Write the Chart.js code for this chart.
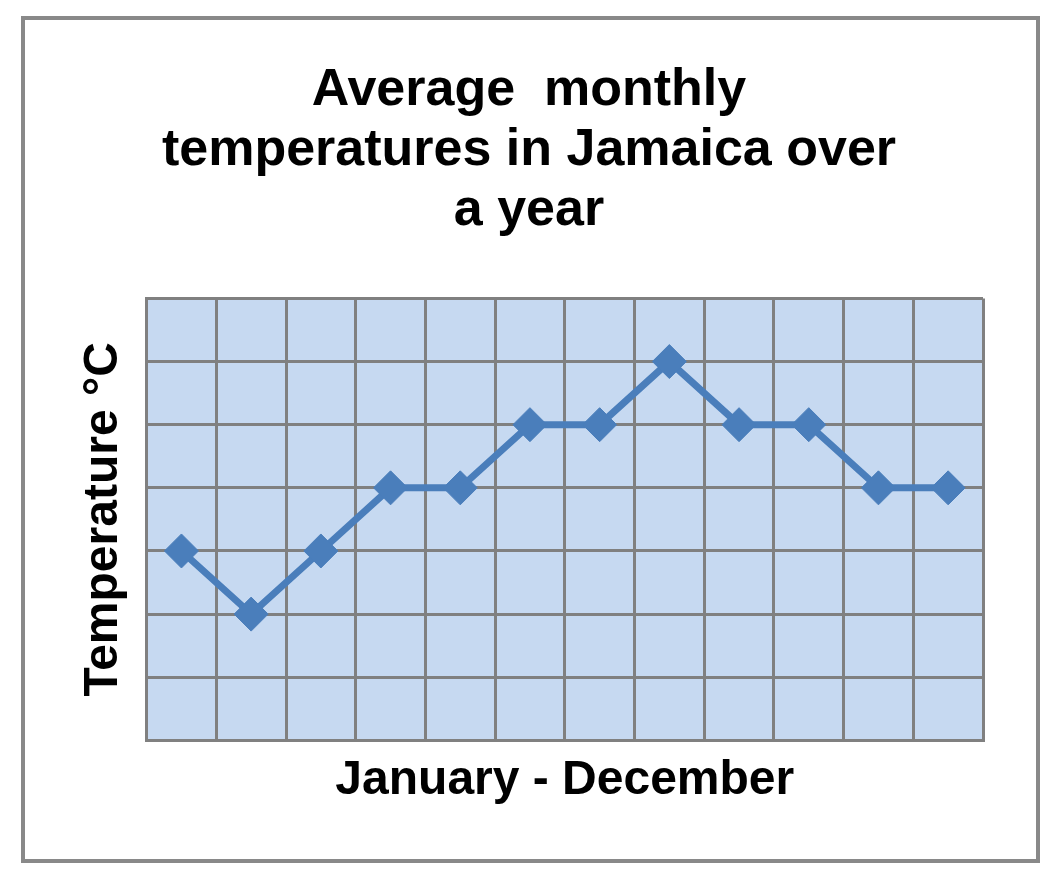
<!DOCTYPE html>
<html>
<head>
<meta charset="utf-8">
<script src="https://cdn.jsdelivr.net/npm/chart.js@4"></script>
<style>
  html, body { margin: 0; padding: 0; background: #fff; }
  #frame {
    position: absolute;
    left: 21px;
    top: 16px;
    width: 1011px;
    height: 839px;
    border: 4px solid #898989;
    background: #fff;
  }
</style>
</head>
<body>
<div id="frame"><canvas id="tempChart"></canvas></div>
<script>
// months along the x axis (labels themselves are hidden in the picture)
const months = ["Jan", "Feb", "Mar", "Apr", "May", "Jun", "Jul", "Aug", "Sep", "Oct", "Nov", "Dec"];
// value of each month, in grid rows above the bottom of the plot
const temps = [3, 2, 3, 4, 4, 5, 5, 6, 5, 5, 4, 4];
const titleLines = ["Average  monthly", "temperatures in Jamaica over", "a year"];

const gridGray = "#808080";
const lineBlue = "#4A7EBB";

// fill the plot area light blue before anything else is drawn
const plotFill = {
    id: "plotFill",
    beforeDraw(chart) {
        const { ctx, chartArea } = chart;
        ctx.save();
        ctx.fillStyle = "#C6D9F1";
        ctx.fillRect(chartArea.left, chartArea.top, chartArea.width, chartArea.height);
        ctx.restore();
    }
};

const ctx = document.getElementById("tempChart").getContext("2d");

new Chart(ctx, {
    type: "line",
    data: {
        labels: months,
        datasets: [{
            data: temps,
            borderColor: lineBlue,
            backgroundColor: lineBlue,
            borderWidth: 7,
            pointStyle: "rectRot",
            pointRadius: 17,
            pointHoverRadius: 17,
            pointBorderColor: lineBlue,
            pointBackgroundColor: lineBlue,
            pointBorderWidth: 1,
            fill: false,
            tension: 0
        }]
    },
    options: {
        responsive: true,
        maintainAspectRatio: false,
        animation: false,
        layout: {
            padding: { left: 50, right: 53, top: 0, bottom: 49 }
        },
        plugins: {
            legend: { display: false },
            tooltip: { enabled: false },
            title: {
                display: true,
                text: titleLines,
                color: "#000",
                font: { family: "'Liberation Sans', Arial, sans-serif", size: 52, weight: "bold", lineHeight: 1.15 },
                padding: { top: 41, bottom: 58 }
            }
        },
        scales: {
            x: {
                offset: true,
                ticks: { display: false },
                grid: { color: gridGray, lineWidth: 3, drawTicks: false, offset: true },
                border: { color: gridGray, width: 3 },
                title: {
                    display: true,
                    text: "January - December",
                    color: "#000",
                    font: { family: "'Liberation Sans', Arial, sans-serif", size: 48, weight: "bold", lineHeight: 1.2 },
                    padding: { top: 12, bottom: 0 }
                }
            },
            y: {
                min: 0,
                max: 7,
                ticks: { display: false, stepSize: 1 },
                grid: { color: gridGray, lineWidth: 3, drawTicks: false },
                border: { color: gridGray, width: 3 },
                title: {
                    display: true,
                    text: "Temperature °C",
                    color: "#000",
                    font: { family: "'Liberation Sans', Arial, sans-serif", size: 48, weight: "bold", lineHeight: 1.2 },
                    padding: { top: 0, bottom: 14 }
                }
            }
        }
    },
    plugins: [plotFill]
});
</script>
</body>
</html>
